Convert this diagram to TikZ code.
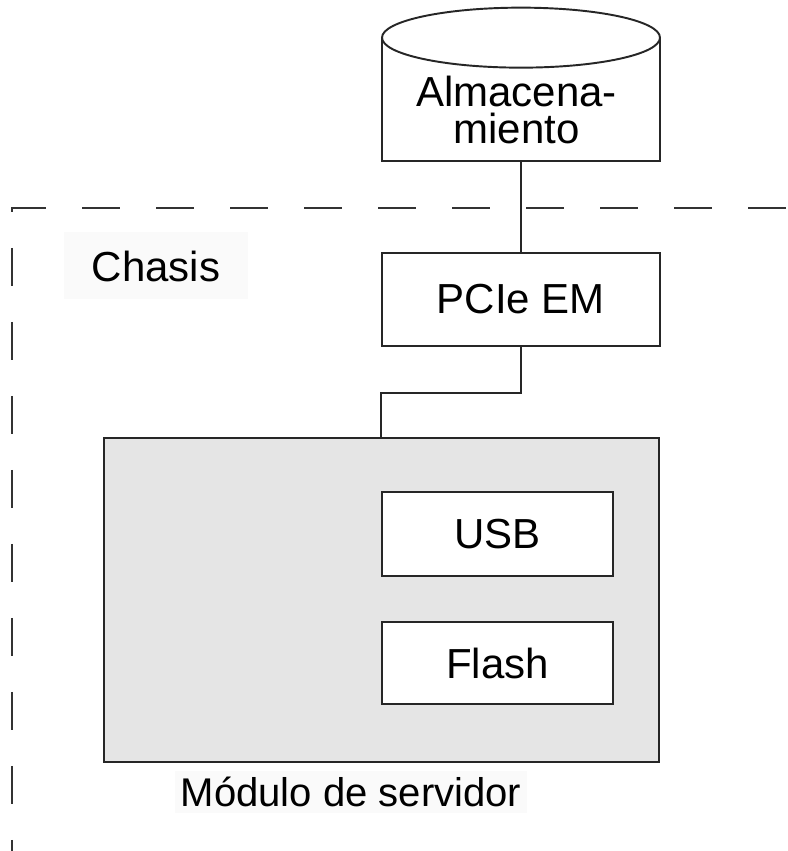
\documentclass[tikz,border=0pt]{standalone}
\usepackage{fontspec}
\setmainfont{Liberation Sans}
\usetikzlibrary{calc}
\definecolor{modgray}{HTML}{E5E5E5}
\definecolor{labelbg}{HTML}{FAFAFA}

\begin{document}
\begin{tikzpicture}[
    blk/.style={draw=black!85, line width=1.1pt, fill=white, inner sep=0pt},
    wire/.style={draw=black!85, line width=1.1pt},
    chassis/.style={draw=black!80, line width=1.1pt, dash pattern=on 0.76cm off 0.72cm},
    txt/.style={font=\fontsize{23.9}{21.5}\selectfont}
]
    \useasboundingbox (0,0) rectangle (15.76,17.02);
    % chasis outline
    \draw[chassis] (0.24,12.78) -- (0.24,12.86) -- (15.76,12.86);
    \draw[chassis] (0.24,12.06) -- (0.24,0);
    \node[txt, fill=labelbg, minimum width=3.66cm, minimum height=1.34cm] (chasis) at (3.12,11.7) {Chasis};

    % storage
    \node[minimum width=5.56cm, minimum height=2.46cm, inner sep=0pt] (store) at (10.42,15.03) {};
    \draw[wire, fill=white] (store.north west) -- (store.south west) -- (store.south east) -- (store.north east);
    \draw[wire, fill=white] (store.north) ellipse [x radius=2.78, y radius=0.6];
    \node[txt, align=center] (storetxt) at (10.33,14.82) {Almacena-\\miento};

    % PCIe
    \node[blk, txt, minimum width=5.56cm, minimum height=1.86cm] (pcie) at (10.42,11.03) {PCIe EM};

    % server module
    \node[blk, fill=modgray, minimum width=11.1cm, minimum height=6.48cm] (module) at (7.63,5.02) {};
    \node[blk, txt, minimum width=4.62cm, minimum height=1.68cm] (usb) at (9.95,6.34) {USB};
    \node[blk, txt, minimum width=4.62cm, minimum height=1.64cm] (flash) at (9.95,3.76) {Flash};
    \node[txt, fill=labelbg, font=\fontsize{22.8}{26}\selectfont] (modlabel) at (7.02,1.18) {Módulo de servidor};

    % links
    \draw[wire] (store.south) -- (pcie.north);
    \draw[wire] (pcie.south) -- ++(0,-0.92) -| (usb.west |- module.north);
\end{tikzpicture}
\end{document}
